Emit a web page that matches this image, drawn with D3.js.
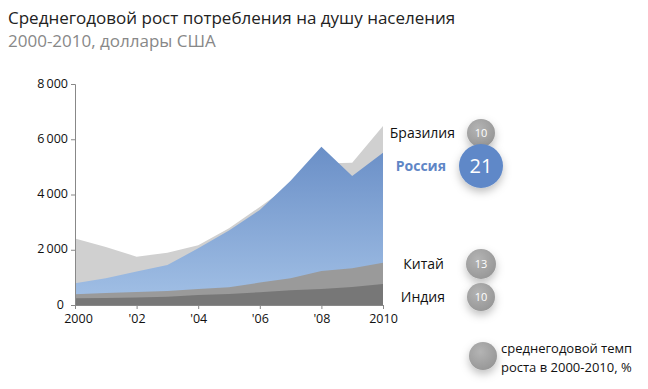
<!DOCTYPE html>
<html>
<head>
<meta charset="utf-8">
<script src="https://cdn.jsdelivr.net/npm/d3@7"></script>
<style>
  body { margin: 0; background: #fff; }
  svg { font-family: "Open Sans", sans-serif; }
</style>
</head>
<body>
<script>
const years = [2000, 2001, 2002, 2003, 2004, 2005, 2006, 2007, 2008, 2009, 2010];
const brazil = [2410, 2100, 1750, 1890, 2160, 2780, 3550, 4350, 5120, 5150, 6480];
const russia = [785, 965, 1210, 1450, 2050, 2700, 3440, 4500, 5730, 4670, 5510];
const china = [385, 430, 470, 510, 580, 640, 810, 965, 1230, 1330, 1530];
const india = [240, 255, 275, 300, 360, 400, 460, 530, 580, 650, 760];
const yTicks = [0, 2000, 4000, 6000, 8000];
const xTicks = [2000, 2002, 2004, 2006, 2008, 2010];
const labels = ["Бразилия", "Россия", "Китай", "Индия"];
const rates = [10, 21, 13, 10];

let width = 648, height = 389;
let svg = d3.select("body").append("svg").attr("width", width).attr("height", height);

let defs = svg.append("defs");
let grad = defs.append("linearGradient").attr("id", "blue").attr("x1", 0).attr("y1", 0).attr("x2", 0).attr("y2", 1);
grad.append("stop").attr("offset", "0%").attr("stop-color", "#6a8fc7");
grad.append("stop").attr("offset", "100%").attr("stop-color", "#a3c1e6");
let cg = defs.append("radialGradient").attr("id", "ball").attr("cx", "40%").attr("cy", "35%").attr("r", "70%");
cg.append("stop").attr("offset", "0%").attr("stop-color", "#b4b4b4");
cg.append("stop").attr("offset", "100%").attr("stop-color", "#969696");
let sh = defs.append("filter").attr("id", "shadow").attr("x", "-50%").attr("y", "-50%").attr("width", "200%").attr("height", "200%");
sh.append("feDropShadow").attr("dx", 0).attr("dy", 4).attr("stdDeviation", 4).attr("flood-color", "#000").attr("flood-opacity", 0.25);

svg.append("text").attr("x", 8).attr("y", 24).attr("font-size", 17).attr("fill", "#222")
  .text("Среднегодовой рост потребления на душу населения");
svg.append("text").attr("x", 8).attr("y", 47).attr("font-size", 17).attr("fill", "#888")
  .text("2000-2010, доллары США");

let x = d3.scaleLinear([2000, 2010], [75, 383]);
let y = d3.scaleLinear([0, 8000], [305, 84]);

function area(vals) {
  return d3.area().x((d, i) => x(years[i])).y0(y(0)).y1(d => y(d))(vals);
}
svg.append("path").attr("d", area(brazil)).attr("fill", "#d0d0d0");
svg.append("path").attr("d", area(russia)).attr("fill", "url(#blue)");
svg.append("path").attr("d", area(china)).attr("fill", "#9a9a9a");
svg.append("path").attr("d", area(india)).attr("fill", "#777777");

let yAxis = svg.append("g").attr("transform", "translate(75,0)")
  .call(d3.axisLeft(y).tickValues(yTicks).tickSize(4).tickPadding(3)
    .tickFormat(d => d3.format(",")(d).replace(",", "\u2009")));
let xAxis = svg.append("g").attr("transform", "translate(0,305)")
  .call(d3.axisBottom(x).tickValues(xTicks).tickSize(4).tickPadding(5)
    .tickFormat(d => (d == 2000 || d == 2010) ? d : "'" + String(d).slice(2)));
[yAxis, xAxis].forEach(a => {
  a.select(".domain").attr("stroke", "#888");
  a.selectAll(".tick line").attr("stroke", "#888");
  a.selectAll("text").attr("font-size", 12.5).attr("fill", "#111").attr("font-family", "Open Sans");
});
yAxis.selectAll("text").attr("dy", "0.25em").attr("dx", d => d == 0 ? -4 : 0);
xAxis.selectAll("text").attr("dx", d => d == 2000 ? 3 : 0);

let labY = [133, 166, 264, 297];
let labX = [455, 446, 444, 445];
let rad = [14, 22, 15, 14];
labels.forEach((t, i) => {
  svg.append("text").attr("x", labX[i]).attr("y", labY[i] + 5).attr("text-anchor", "end")
    .attr("font-size", 14).attr("font-weight", i == 1 ? "bold" : "normal")
    .attr("fill", i == 1 ? "#5f86c6" : "#111").text(t);
});
[0, 2, 3, 1].forEach(i => {
  svg.append("circle").attr("cx", 481).attr("cy", labY[i]).attr("r", rad[i])
    .attr("fill", i == 1 ? "#5f88c8" : "url(#ball)").attr("filter", "url(#shadow)");
  svg.append("text").attr("x", 481).attr("y", labY[i]).attr("dy", "0.36em").attr("text-anchor", "middle")
    .attr("font-size", i == 1 ? 20 : 11).attr("fill", "#fff").text(rates[i]);
});

svg.append("circle").attr("cx", 483).attr("cy", 356).attr("r", 14).attr("fill", "url(#ball)").attr("filter", "url(#shadow)");
svg.append("text").attr("x", 501).attr("y", 353).attr("font-size", 13).attr("fill", "#111").text("среднегодовой темп");
svg.append("text").attr("x", 501).attr("y", 372).attr("font-size", 13).attr("fill", "#111").text("роста в 2000-2010, %");
</script>
</body>
</html>
